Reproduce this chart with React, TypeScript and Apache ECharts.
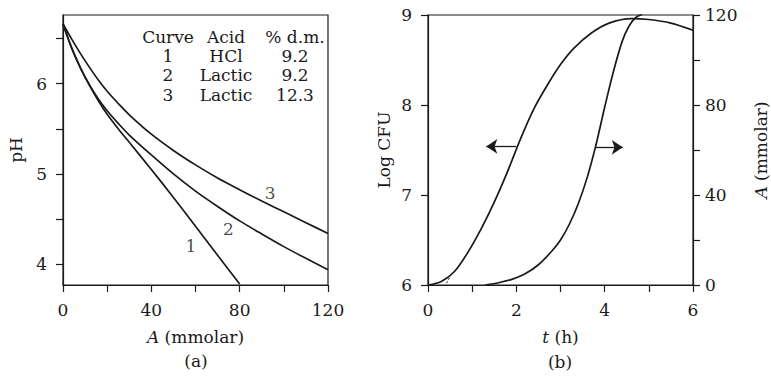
import React, { useEffect, useRef } from "react";
import * as echarts from "echarts";

// ---- Panel (a): pH vs A (mmolar) ----
const curve1A = [0, 4, 8, 12, 16, 20, 25, 30, 40, 50, 60, 70, 80];
const curve1pH = [6.66, 6.39, 6.17, 5.98, 5.81, 5.66, 5.5, 5.35, 5.05, 4.74, 4.42, 4.1, 3.78];
const curve2A = [0, 4, 8, 12, 16, 20, 25, 30, 40, 50, 60, 70, 80, 90, 100, 110, 120];
const curve2pH = [6.66, 6.39, 6.17, 5.985, 5.83, 5.7, 5.56, 5.43, 5.21, 5.0, 4.81, 4.64, 4.48, 4.335, 4.195, 4.065, 3.94];
const curve3A = [0, 4, 8, 12, 16, 20, 25, 30, 40, 50, 60, 70, 80, 90, 100, 110, 120];
const curve3pH = [6.66, 6.49, 6.33, 6.18, 6.04, 5.915, 5.78, 5.655, 5.44, 5.26, 5.1, 4.955, 4.825, 4.7, 4.58, 4.46, 4.34];
const curveLabels = ["1", "2", "3"];
const curveLabelA = [57.9, 74.9, 93.8];
const curveLabelpH = [4.2, 4.39, 4.79];
const phTicks = [4, 4.5, 5, 5.5, 6, 6.5];
const phLabels = [4, 5, 6];
const tableHeader = ["Curve", "Acid", "% d.m."];
const tableCurve = ["1", "2", "3"];
const tableAcid = ["HCl", "Lactic", "Lactic"];
const tableDm = ["9.2", "9.2", "12.3"];

// ---- Panel (b): Log CFU and A vs t (h) ----
const cfuT = [0, 0.3, 0.6, 0.9, 1.2, 1.5, 1.8, 2.1, 2.4, 2.7, 3.0, 3.3, 3.7, 4.1, 4.6, 5.0, 5.5, 6.0];
const cfuLog = [6.0, 6.04, 6.15, 6.36, 6.62, 6.92, 7.26, 7.63, 7.96, 8.22, 8.45, 8.63, 8.8, 8.91, 8.96, 8.95, 8.91, 8.83];
const acidT = [1.3, 1.6, 1.9, 2.2, 2.5, 2.8, 3.0, 3.2, 3.4, 3.6, 3.8, 4.0, 4.2, 4.4, 4.55, 4.7, 4.85];
const acidA = [0, 1.0, 2.5, 5.0, 9.0, 15, 20, 27, 36, 47.5, 62, 79, 95, 108.5, 115, 118.8, 120.3];
const dashT = [0.42, 0.51];
const dashLog = [6.02, 6.1];
const leftArrowT = [2.0, 1.32];
const leftArrowLog = 7.54;
const rightArrowT = [3.8, 4.41];
const rightArrowA = 61.2;

const FONT = "DejaVu Serif";
const FS = 17;
const INK = "#1a1a1a";

const zip = (xs: number[], ys: number[]) => xs.map((x, i) => [x, ys[i]]);

export default function App() {
  const ref = useRef<HTMLDivElement>(null);
  useEffect(() => {
    if (!ref.current) return;
    const chart = echarts.init(ref.current, null, { renderer: "svg" });
    const axisLine = { show: true, onZero: false, lineStyle: { color: INK, width: 1.2 } };
    const axisTick = { show: true, length: 7, inside: false, lineStyle: { color: INK, width: 1.2 } };
    const label = { color: INK, fontFamily: FONT, fontSize: FS };
    const nameStyle = {
      color: INK,
      fontFamily: FONT,
      fontSize: FS,
      rich: { it: { fontStyle: "italic", fontFamily: FONT, fontSize: FS, color: INK } },
    };
    const lineS = { color: INK, width: 1.7 };
    const graphic: any[] = [];
    const cols = [168, 226, 295];
    const rowY = (i: number) => 37 + i * 19.2;
    const txt = (x: number, y: number, text: string) => ({
      type: "text", x, y,
      style: { text, fill: INK, font: `${FS}px "${FONT}"`, textAlign: "center", textVerticalAlign: "middle" },
    });
    tableHeader.forEach((t, c) => graphic.push(txt(cols[c], rowY(0), t)));
    [tableCurve, tableAcid, tableDm].forEach((col, c) =>
      col.forEach((t, r) => graphic.push(txt(cols[c], rowY(r + 1), t)))
    );
    graphic.push(txt(196, 361, "(a)"));
    graphic.push(txt(560, 362, "(b)"));

    const option: any = {
      animation: false,
      graphic,
      grid: [
        { left: 63, top: 15, width: 265, height: 270, show: true, borderColor: INK, borderWidth: 1.2, backgroundColor: "transparent" },
        { left: 428, top: 15, width: 265, height: 270, show: true, borderColor: INK, borderWidth: 1.2, backgroundColor: "transparent" },
      ],
      xAxis: [
        {
          gridIndex: 0, type: "value", min: 0, max: 120, interval: 20,
          axisLine, axisTick, splitLine: { show: false },
          axisLabel: { ...label, margin: 16, formatter: (v: number) => (v % 40 === 0 ? String(v) : "") },
          name: "{it|A} (mmolar)", nameLocation: "middle", nameGap: 43, nameTextStyle: nameStyle,
        },
        {
          gridIndex: 1, type: "value", min: 0, max: 6, interval: 1,
          axisLine, axisTick, splitLine: { show: false },
          axisLabel: { ...label, margin: 16, formatter: (v: number) => (v % 2 === 0 ? String(v) : "") },
          name: "{it|t} (h)", nameLocation: "middle", nameGap: 43, nameTextStyle: nameStyle,
        },
      ],
      yAxis: [
        {
          gridIndex: 0, type: "value", min: 3.77, max: 6.76,
          axisLine, axisTick: { ...axisTick, customValues: phTicks }, splitLine: { show: false },
          axisLabel: { ...label, margin: 16, customValues: phLabels },
          name: "pH", nameLocation: "middle", nameGap: 39, nameRotate: 90, nameTextStyle: nameStyle,
        },
        {
          gridIndex: 1, type: "value", min: 6, max: 9, interval: 1,
          axisLine, axisTick, splitLine: { show: false },
          axisLabel: { ...label, margin: 16 },
          name: "Log CFU", nameLocation: "middle", nameGap: 36, nameRotate: 90, nameTextStyle: nameStyle,
        },
        {
          gridIndex: 1, type: "value", position: "right", min: 0, max: 120, interval: 20,
          axisLine, axisTick, splitLine: { show: false },
          axisLabel: { ...label, margin: 12, formatter: (v: number) => (v % 40 === 0 ? String(v) : "") },
          name: "{it|A} (mmolar)", nameLocation: "middle", nameGap: 59, nameRotate: 90, nameTextStyle: nameStyle,
        },
      ],
      series: [
        { type: "line", xAxisIndex: 0, yAxisIndex: 0, data: zip(curve1A, curve1pH), showSymbol: false, smooth: 0.3, lineStyle: lineS, silent: true },
        { type: "line", xAxisIndex: 0, yAxisIndex: 0, data: zip(curve2A, curve2pH), showSymbol: false, smooth: 0.3, lineStyle: lineS, silent: true },
        { type: "line", xAxisIndex: 0, yAxisIndex: 0, data: zip(curve3A, curve3pH), showSymbol: false, smooth: 0.3, lineStyle: lineS, silent: true },
        {
          type: "scatter", xAxisIndex: 0, yAxisIndex: 0, symbolSize: 1, silent: true,
          itemStyle: { color: "rgba(0,0,0,0)" },
          data: curveLabels.map((t, i) => ({ value: [curveLabelA[i], curveLabelpH[i]], name: t })),
          label: { show: true, position: "inside", formatter: (p: any) => p.name, ...label },
        },
        {
          type: "line", xAxisIndex: 1, yAxisIndex: 1, data: zip(cfuT, cfuLog), showSymbol: false, smooth: 0.3, lineStyle: lineS, silent: true,
          markLine: {
            silent: true, symbol: ["none", "arrow"], symbolSize: 11, label: { show: false },
            lineStyle: { color: INK, width: 1.3, type: "solid" },
            data: [[{ coord: [leftArrowT[0], leftArrowLog] }, { coord: [leftArrowT[1], leftArrowLog] }]],
          },
        },
        {
          type: "line", xAxisIndex: 1, yAxisIndex: 1, data: zip(dashT, dashLog), showSymbol: false, silent: true,
          lineStyle: { color: INK, width: 1, type: [2, 2] },
        },
        {
          type: "line", xAxisIndex: 1, yAxisIndex: 2, data: zip(acidT, acidA), showSymbol: false, smooth: 0.3, lineStyle: lineS, silent: true,
          markLine: {
            silent: true, symbol: ["none", "arrow"], symbolSize: 11, label: { show: false },
            lineStyle: { color: INK, width: 1.3, type: "solid" },
            data: [[{ coord: [rightArrowT[0], rightArrowA] }, { coord: [rightArrowT[1], rightArrowA] }]],
          },
        },
      ],
    };
    chart.setOption(option);
    return () => chart.dispose();
  }, []);
  return <div ref={ref} style={{ width: 771, height: 376, position: "absolute", left: 0, top: 0, background: "#fff" }} />;
}
